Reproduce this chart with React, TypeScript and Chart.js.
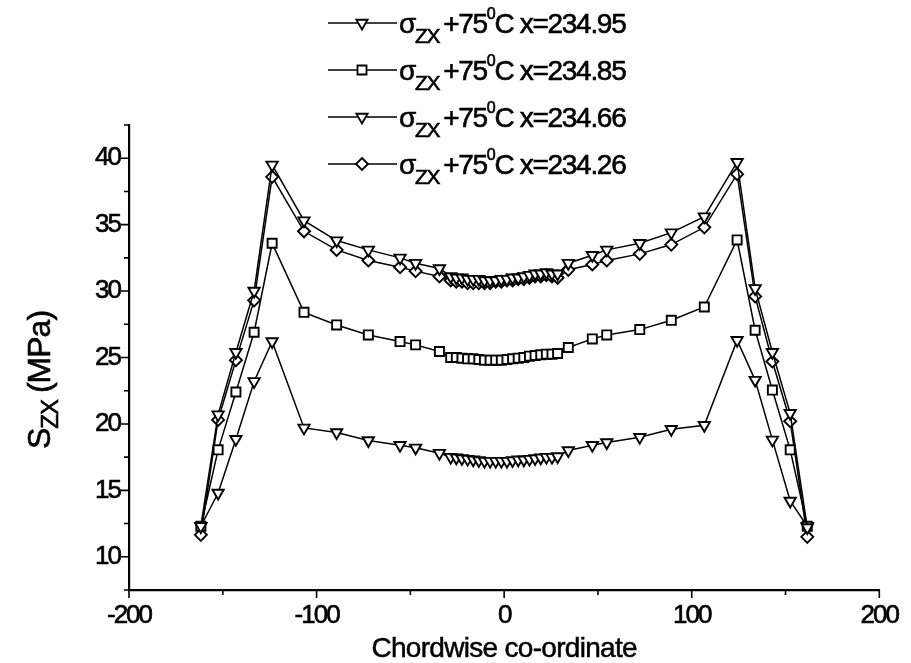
import React, { useEffect, useRef } from 'react';
import { Chart, registerables } from 'chart.js';

Chart.register(...registerables);

// Chordwise stations (shared by all four series)
const chordwise = [
  -161.7, -152.5, -143.0, -133.3, -123.7, -106.7, -89.3, -72.4, -55.5, -47.2, -34.5,
  -28.5, -25.5, -22.5, -19.5, -16.5, -13.5, -10.5, -7.5, -4.5, -1.5,
  1.5, 4.5, 7.5, 10.5, 13.5, 16.5, 19.5, 22.5, 25.5, 28.5,
  34.2, 47.0, 54.7, 72.3, 89.1, 106.7, 124.2, 133.8, 143.0, 152.5, 161.6,
];

// Shear stress sigma_zx (MPa) at +75 °C for each spanwise station
const sigmaX23495 = [
  12.3, 20.7, 25.4, 30.0, 39.5, 35.3, 33.8, 33.1, 32.5, 32.1, 31.7,
  31.1, 31.0, 31.0, 30.9, 30.9, 30.9, 30.8, 30.8, 30.8, 30.9,
  30.9, 31.0, 31.0, 31.1, 31.2, 31.3, 31.3, 31.4, 31.3, 31.3,
  32.1, 32.7, 33.1, 33.6, 34.4, 35.6, 39.7, 30.2, 25.4, 20.8, 12.2,
];
const sigmaX23485 = [
  12.3, 18.05, 22.4, 26.9, 33.6, 28.4, 27.45, 26.7, 26.2, 25.95, 25.45,
  25.0, 25.0, 24.95, 24.9, 24.9, 24.85, 24.8, 24.8, 24.8, 24.8,
  24.85, 24.9, 24.95, 25.0, 25.1, 25.15, 25.2, 25.25, 25.25, 25.3,
  25.75, 26.4, 26.7, 27.1, 27.8, 28.8, 33.85, 27.05, 22.55, 18.05, 12.3,
];
const sigmaX23466 = [
  12.3, 14.8, 18.85, 23.2, 26.2, 19.7, 19.35, 18.75, 18.4, 18.2, 17.8,
  17.5, 17.45, 17.4, 17.35, 17.3, 17.25, 17.2, 17.2, 17.2, 17.2,
  17.2, 17.25, 17.3, 17.3, 17.35, 17.4, 17.45, 17.5, 17.5, 17.55,
  18.0, 18.4, 18.6, 19.0, 19.6, 19.9, 26.3, 23.3, 18.8, 14.2, 12.3,
];
const sigmaX23426 = [
  11.65, 20.3, 24.8, 29.3, 38.6, 34.5, 33.1, 32.3, 31.8, 31.5, 31.1,
  30.8, 30.7, 30.7, 30.6, 30.6, 30.6, 30.6, 30.6, 30.7, 30.7,
  30.8, 30.8, 30.9, 30.9, 31.0, 31.1, 31.1, 31.2, 31.1, 31.0,
  31.6, 32.0, 32.3, 32.8, 33.5, 34.8, 38.8, 29.6, 24.7, 20.2, 11.5,
];

const stationLabels = ['234.95', '234.85', '234.66', '234.26'];
const markerKinds = ['tri', 'square', 'tri', 'diamond'];

const xMajorTicks = [-200, -100, 0, 100, 200];
const xMinorTicks = [-150, -50, 50, 150];
const yMajorTicks = [10, 15, 20, 25, 30, 35, 40];
const yMinorTicks = [7.5, 12.5, 17.5, 22.5, 27.5, 32.5, 37.5, 42.5];

const FONT = '"Liberation Sans", Arial, sans-serif';

function markerPath(ctx: CanvasRenderingContext2D, kind: string, x: number, y: number) {
  ctx.beginPath();
  if (kind === 'tri') {
    const r = 6.5;
    const s = r * Math.sin(Math.PI / 3);
    ctx.moveTo(x, y + r);
    ctx.lineTo(x - s, y - r / 2);
    ctx.lineTo(x + s, y - r / 2);
  } else if (kind === 'square') {
    const h = 4.5;
    ctx.rect(x - h, y - h, 2 * h, 2 * h);
  } else {
    const r = 6;
    ctx.moveTo(x, y - r);
    ctx.lineTo(x + r, y);
    ctx.lineTo(x, y + r);
    ctx.lineTo(x - r, y);
  }
  ctx.closePath();
}

type Run = { t: string; size: number; dy: number; gap?: number };

function drawRuns(ctx: CanvasRenderingContext2D, x: number, baseline: number, runs: Run[], spacing: string) {
  let cx = x;
  for (const run of runs) {
    cx += run.gap || 0;
    ctx.font = `${run.size}px ${FONT}`;
    (ctx as any).letterSpacing = spacing;
    ctx.fillText(run.t, cx, baseline + run.dy);
    ctx.lineWidth = 0.6;
    ctx.strokeText(run.t, cx, baseline + run.dy);
    cx += ctx.measureText(run.t).width;
  }
  return cx - x;
}

function runsWidth(ctx: CanvasRenderingContext2D, runs: Run[], spacing: string) {
  let w = 0;
  for (const r of runs) {
    ctx.font = `${r.size}px ${FONT}`;
    (ctx as any).letterSpacing = spacing;
    w += ctx.measureText(r.t).width + (r.gap || 0);
  }
  return w;
}

const decorations = {
  id: 'decorations',
  beforeDraw(chart: any) {
    // tight tracking for the axis tick numbers
    (chart.ctx as any).letterSpacing = '-2px';
  },
  afterDraw(chart: any) {
    const ctx: CanvasRenderingContext2D = chart.ctx;
    const xs = chart.scales.x;
    const ys = chart.scales.y;
    const { left, bottom } = chart.chartArea;
    ctx.save();
    ctx.strokeStyle = '#000';
    ctx.lineWidth = 1.6;
    // tick marks, outward
    ctx.beginPath();
    for (const v of xMajorTicks) {
      const px = xs.getPixelForValue(v);
      ctx.moveTo(px, bottom);
      ctx.lineTo(px, bottom + 8);
    }
    for (const v of xMinorTicks) {
      const px = xs.getPixelForValue(v);
      ctx.moveTo(px, bottom);
      ctx.lineTo(px, bottom + 5);
    }
    for (const v of yMajorTicks) {
      const py = ys.getPixelForValue(v);
      ctx.moveTo(left, py);
      ctx.lineTo(left - 8, py);
    }
    for (const v of yMinorTicks) {
      const py = ys.getPixelForValue(v);
      ctx.moveTo(left, py);
      ctx.lineTo(left - 5, py);
    }
    ctx.stroke();

    ctx.fillStyle = '#000';
    ctx.textAlign = 'left';
    ctx.textBaseline = 'alphabetic';

    // legend
    const rowY = [23, 70, 117, 164];
    stationLabels.forEach((lab, i) => {
      const y = rowY[i];
      ctx.lineWidth = 1.6;
      ctx.beginPath();
      ctx.moveTo(328, y);
      ctx.lineTo(397, y);
      ctx.stroke();
      markerPath(ctx, markerKinds[i], 362, y);
      ctx.fillStyle = '#fff';
      ctx.fill();
      ctx.lineWidth = 1.8;
      ctx.stroke();
      ctx.fillStyle = '#000';
      drawRuns(ctx, 399, y + 10, [
        { t: 'σ', size: 28, dy: 0 },
        { t: 'ZX', size: 21, dy: 10 },
        { t: '+75', size: 28, dy: 0, gap: 4 },
        { t: '0', size: 16, dy: -14 },
        { t: 'C x=' + lab, size: 28, dy: 0 },
      ], '-1.3px');
    });

    // x title
    ctx.font = `28px ${FONT}`;
    (ctx as any).letterSpacing = '-0.7px';
    ctx.textAlign = 'center';
    ctx.lineWidth = 0.5;
    const tx = (xs.left + xs.right) / 2;
    ctx.fillText('Chordwise co-ordinate', tx, 657);
    ctx.strokeText('Chordwise co-ordinate', tx, 657);

    // y title with subscript
    ctx.translate(50, 380);
    ctx.rotate(-Math.PI / 2);
    ctx.textAlign = 'left';
    const runs: Run[] = [
      { t: 'S', size: 32, dy: 0 },
      { t: 'ZX', size: 24, dy: 8 },
      { t: '(MPa)', size: 32, dy: 0, gap: 7 },
    ];
    const w = runsWidth(ctx, runs, '-1px');
    drawRuns(ctx, -w / 2, 0, runs, '-1px');
    ctx.restore();
  },
};

const seriesSets = [sigmaX23495, sigmaX23485, sigmaX23466, sigmaX23426];

export default function App() {
  const canvasRef = useRef<HTMLCanvasElement | null>(null);

  useEffect(() => {
    const canvas = canvasRef.current;
    if (!canvas) return;
    const styleFor = (kind: string) =>
      kind === 'tri'
        ? { pointStyle: 'triangle', pointRotation: 180, pointRadius: 6.5 }
        : kind === 'square'
        ? { pointStyle: 'rect', pointRotation: 0, pointRadius: 6.4 }
        : { pointStyle: 'rectRot', pointRotation: 0, pointRadius: 6 };

    const chart = new Chart(canvas, {
      type: 'line',
      data: {
        datasets: seriesSets.map((vals, i) => ({
          label: 'x=' + stationLabels[i],
          data: vals.map((v, j) => ({ x: chordwise[j], y: v })),
          borderColor: '#000',
          borderWidth: 1.5,
          backgroundColor: '#fff',
          pointBackgroundColor: '#fff',
          pointBorderColor: '#000',
          pointBorderWidth: 1.9,
          tension: 0,
          fill: false,
          ...styleFor(markerKinds[i]),
        })) as any,
      },
      options: {
        responsive: false,
        animation: false,
        devicePixelRatio: 1,
        layout: { padding: { top: 125, right: 22, left: 0, bottom: 0 } },
        plugins: { legend: { display: false }, tooltip: { enabled: false }, title: { display: false } },
        scales: {
          x: {
            type: 'linear',
            min: -200,
            max: 200,
            afterBuildTicks: (s: any) => { s.ticks = xMajorTicks.map((v) => ({ value: v })); },
            afterFit: (s: any) => { s.height = 73; },
            grid: { display: false, drawTicks: false },
            border: { display: true, color: '#000', width: 2.2 },
            ticks: {
              color: '#000',
              font: { family: FONT, size: 26 },
              textStrokeColor: '#000',
              textStrokeWidth: 0.6,
              padding: 10,
              maxRotation: 0,
              callback: (v: any) => String(v),
            },
          },
          y: {
            type: 'linear',
            min: 7.5,
            max: 42.5,
            afterBuildTicks: (s: any) => { s.ticks = yMajorTicks.map((v) => ({ value: v })); },
            afterFit: (s: any) => { s.width = 129; },
            grid: { display: false, drawTicks: false },
            border: { display: true, color: '#000', width: 2.2 },
            ticks: {
              color: '#000',
              font: { family: FONT, size: 26 },
              textStrokeColor: '#000',
              textStrokeWidth: 0.6,
              padding: 9,
              callback: (v: any) => String(v),
            },
          },
        },
      },
      plugins: [decorations],
    });
    return () => chart.destroy();
  }, []);

  return (
    <div style={{ position: 'fixed', left: 0, top: 0, width: 911, height: 663, background: '#fff' }}>
      <canvas ref={canvasRef} width={911} height={663} />
    </div>
  );
}
